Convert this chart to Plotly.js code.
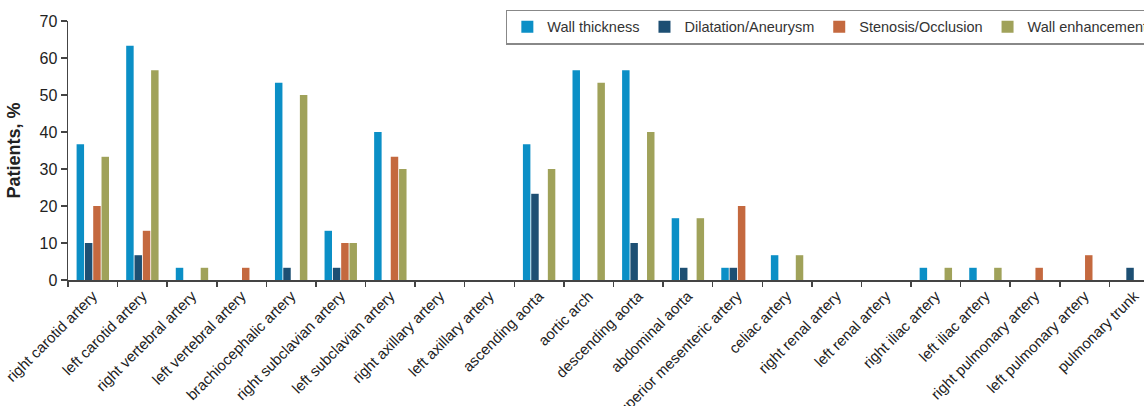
<!DOCTYPE html>
<html>
<head>
<meta charset="utf-8">
<script src="https://cdn.plot.ly/plotly-3.0.1.min.js"></script>
<style>
html,body{margin:0;padding:0;overflow:hidden;background:#fff;}
#chart{width:1170px;height:406px;}
</style>
</head>
<body>
<div id="chart"></div>
<script>
const categories = ["right carotid artery","left carotid artery","right vertebral artery","left vertebral artery","brachiocephalic artery","right subclavian artery","left subclavian artery","right axillary artery","left axillary artery","ascending aorta","aortic arch","descending aorta","abdominal aorta","superior mesenteric artery","celiac artery","right renal artery","left renal artery","right iliac artery","left iliac artery","right pulmonary artery","left pulmonary artery","pulmonary trunk"];
const wallThickness = [36.7,63.3,3.3,0,53.3,13.3,40,0,0,36.7,56.7,56.7,16.7,3.3,6.7,0,0,3.3,3.3,0,0,0];
const dilatation    = [10,6.7,0,0,3.3,3.3,0,0,0,23.3,0,10,3.3,3.3,0,0,0,0,0,0,0,3.3];
const stenosis      = [20,13.3,0,3.3,0,10,33.3,0,0,0,0,0,0,20,0,0,0,0,0,3.3,6.7,0];
const enhancement   = [33.3,56.7,3.3,0,50,10,30,0,0,30,53.3,40,16.7,0,6.7,0,0,3.3,3.3,0,0,0];
const seriesNames = ["Wall thickness","Dilatation/Aneurysm","Stenosis/Occlusion","Wall enhancement"];
const seriesColors = ["#0b8fc6","#1d4f73","#c4693f","#a0a25a"];
const yTicks = [0,10,20,30,40,50,60,70];

const allValues = [wallThickness, dilatation, stenosis, enhancement];
const data = allValues.map((vals,i)=>({
  type:'bar', x:categories, y:vals, name:seriesNames[i],
  marker:{color:seriesColors[i], line:{width:0}}
}));

const layout = {
  width:1170, height:406,
  margin:{l:68, r:11, t:20, b:126},
  barmode:'group', bargap:0.33, bargroupgap:0.1,
  paper_bgcolor:'#fff', plot_bgcolor:'#fff',
  font:{family:'Liberation Sans, Arial, sans-serif', color:'#222'},
  showlegend:true,
  legend:{orientation:'h', x:0.4016, y:1.04, xanchor:'left', yanchor:'top',
    bordercolor:'#888', borderwidth:1.2, font:{size:14.5, color:'#333'},
    bgcolor:'#fff', traceorder:'normal'},
  xaxis:{type:'category', range:[-0.5,21.5], showline:true, linecolor:'#444', linewidth:1.5,
    ticks:'outside', tickson:'boundaries', ticklen:5, tickcolor:'#444', tickwidth:1.5,
    tickangle:-45, tickfont:{size:15, color:'#222'}, showgrid:false, zeroline:false, automargin:false},
  yaxis:{range:[0,70], tickvals:yTicks, ticktext:yTicks.map(String), showline:true, linecolor:'#444', linewidth:1.5,
    ticks:'outside', ticklen:6, tickcolor:'#444', tickwidth:1.5, tickfont:{size:16, color:'#222'},
    showgrid:false, zeroline:false, automargin:false,
    title:{text:'<b>Patients, %</b>', font:{size:18, color:'#222'}, standoff:14}}
};
Plotly.newPlot('chart', data, layout, {displayModeBar:false, staticPlot:true});
</script>
</body>
</html>
